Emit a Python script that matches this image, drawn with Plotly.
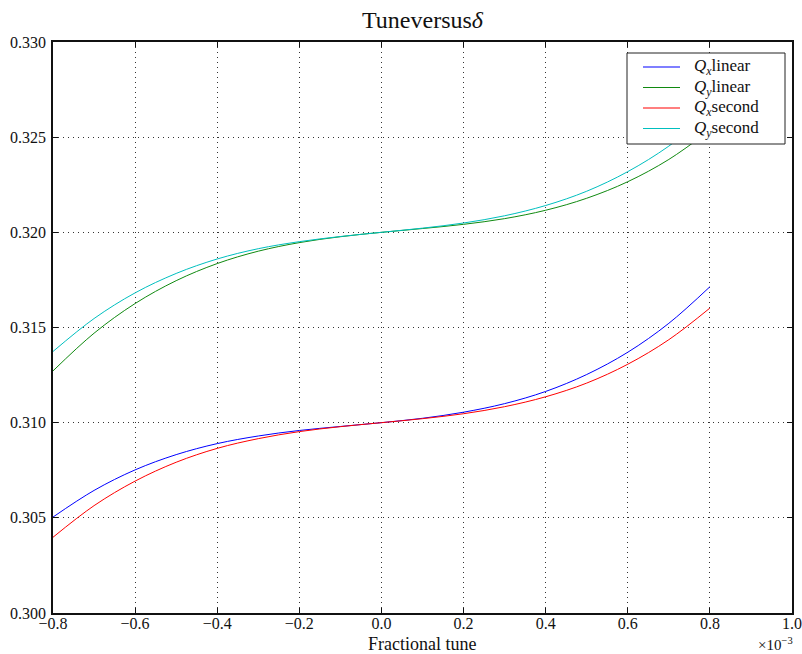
import plotly.graph_objects as go

# Momentum deviation delta, in units of 1e-3
delta = [-0.8, -0.7, -0.6, -0.5, -0.4, -0.3, -0.2, -0.1, 0.0,
         0.1, 0.2, 0.3, 0.4, 0.5, 0.6, 0.7, 0.8]

qx_linear = [0.30504, 0.30644, 0.30752, 0.30832, 0.30890, 0.30930, 0.30959, 0.30980, 0.31000,
             0.31023, 0.31055, 0.31100, 0.31164, 0.31253, 0.31370, 0.31522, 0.31714]
qy_linear = [0.31272, 0.31470, 0.31626, 0.31746, 0.31836, 0.31901, 0.31946, 0.31977, 0.32000,
             0.32020, 0.32042, 0.32072, 0.32116, 0.32179, 0.32266, 0.32383, 0.32536]
qx_second = [0.30398, 0.30564, 0.30693, 0.30792, 0.30865, 0.30916, 0.30953, 0.30979, 0.31000,
             0.31021, 0.31047, 0.31084, 0.31136, 0.31208, 0.31307, 0.31436, 0.31602]
qy_second = [0.31374, 0.31547, 0.31682, 0.31784, 0.31860, 0.31914, 0.31951, 0.31978, 0.32000,
             0.32022, 0.32049, 0.32087, 0.32141, 0.32216, 0.32319, 0.32453, 0.32626]

series_names = ["<i>Q</i><sub><i>x</i></sub>linear", "<i>Q</i><sub><i>y</i></sub>linear",
                "<i>Q</i><sub><i>x</i></sub>second", "<i>Q</i><sub><i>y</i></sub>second"]
series_colors = ["#0000ff", "#108a10", "#ff0000", "#00bfbf"]

x_ticks = [-0.8, -0.6, -0.4, -0.2, 0.0, 0.2, 0.4, 0.6, 0.8, 1.0]
x_ticktext = ["\u22120.8", "\u22120.6", "\u22120.4", "\u22120.2", "0.0", "0.2", "0.4", "0.6", "0.8", "1.0"]
y_ticks = [0.300, 0.305, 0.310, 0.315, 0.320, 0.325, 0.330]

SERIF = "Liberation Serif, Times New Roman, serif"
W, H = 802, 654
ML, MR, MT, MB = 53, 10, 42, 41
PW, PH = W - ML - MR, H - MT - MB


def px_to_paper(px, py):
    """Pixel position on the page -> paper coordinates of the plot area."""
    return (px - ML) / PW, (H - MB - py) / PH


fig = go.Figure()
for name, ys, col in zip(series_names, [qx_linear, qy_linear, qx_second, qy_second], series_colors):
    fig.add_trace(go.Scatter(x=delta, y=ys, mode="lines", name=name, showlegend=False,
                             line=dict(color=col, width=1, shape="spline")))

axis_common = dict(
    showline=True, linecolor="#111", linewidth=1.5, mirror="ticks",
    ticks="inside", ticklen=5, tickcolor="#111", tickwidth=1,
    showgrid=True, gridcolor="#333", gridwidth=1, griddash="1px,4px",
    zeroline=False, automargin=False,
    tickfont=dict(family=SERIF, size=16, color="#111"),
)

fig.update_xaxes(range=[-0.8, 1.0], tickvals=x_ticks, ticktext=x_ticktext, ticklabelstandoff=-5,
                 **axis_common)
fig.update_yaxes(range=[0.300, 0.330], tickvals=y_ticks, tickformat=".3f", ticklabelstandoff=2,
                 **axis_common)

# x axis label, placed below the tick labels
lx, ly = px_to_paper(422, 644)
fig.add_annotation(xref="paper", yref="paper", x=lx, y=ly, xanchor="center", yanchor="middle",
                   text="Fractional tune", showarrow=False, borderpad=0,
                   font=dict(family=SERIF, size=18, color="#111"))

# exponent of the x axis
ex, ey = px_to_paper(794, 644)
fig.add_annotation(xref="paper", yref="paper", x=ex, y=ey, xanchor="right", yanchor="middle",
                   text="\u00d710<sup>\u22123</sup>", showarrow=False, borderpad=0,
                   font=dict(family=SERIF, size=15, color="#111"))

# legend box drawn on top of the curves
bx0, by0 = px_to_paper(627, 144)
bx1, by1 = px_to_paper(785, 53)
fig.add_shape(type="rect", xref="paper", yref="paper", x0=bx0, y0=by0, x1=bx1, y1=by1,
              fillcolor="white", line=dict(color="#222", width=1), layer="above")
row_y = [67, 87.5, 108, 128.5]
for name, col, ry in zip(series_names, series_colors, row_y):
    sx0, sy = px_to_paper(643, ry)
    sx1, _ = px_to_paper(680, ry)
    fig.add_shape(type="line", xref="paper", yref="paper", x0=sx0, x1=sx1, y0=sy, y1=sy,
                  line=dict(color=col, width=1.2), layer="above")
    tx, ty = px_to_paper(692, ry)
    fig.add_annotation(xref="paper", yref="paper", x=tx, y=ty, xanchor="left", yanchor="middle",
                       text=name, showarrow=False,
                       font=dict(family=SERIF, size=17, color="#111"))

fig.update_layout(
    width=W, height=H,
    margin=dict(l=ML, r=MR, t=MT, b=MB),
    paper_bgcolor="white", plot_bgcolor="white",
    title=dict(text="Tuneversus<i>\u03b4</i>", x=0.5, xref="paper", xanchor="center",
               y=1 - 20 / H, yanchor="middle",
               font=dict(family=SERIF, size=24, color="#111")),
    showlegend=False,
)

fig.write_html("out.html")
